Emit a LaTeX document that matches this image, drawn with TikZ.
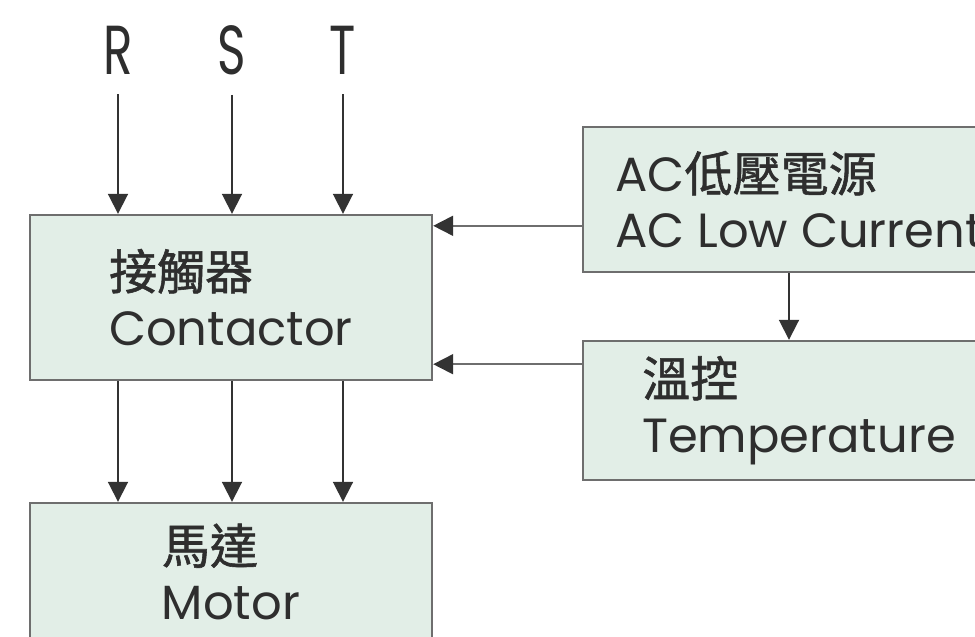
\documentclass[tikz,border=0pt]{standalone}
\usepackage{fontspec}
\usepackage{xcolor}
\usepackage{tikz}
\usetikzlibrary{arrows.meta,positioning,calc}
\setmainfont{Poppins}
\newfontfamily\cjk[FakeBold=1.2]{Noto Sans CJK TC}
\newfontfamily\rstfont[FakeStretch=0.7]{Poppins}
\definecolor{Mint}{HTML}{E2EEE7}
\definecolor{Frame}{HTML}{6E6E6E}
\definecolor{Wire}{HTML}{333333}
\definecolor{Ink}{HTML}{2E2E2E}
\tikzset{
  wirearrow/.style={-{Triangle[length=15pt,width=15pt]}, line width=1.4pt, draw=Wire},
  sidearrow/.style={-{Triangle[length=15pt,width=15pt,color=Wire]}, line width=1.4pt, draw=Frame},
  blockbox/.style={rectangle, draw=Frame, fill=Mint, line width=1.8pt, align=left, inner sep=0pt, text=Ink, font=\fontsize{36}{42}\selectfont},
  phasetag/.style={inner sep=3pt, text=Ink, font=\rstfont\fontsize{52}{52}\selectfont},
}

\begin{document}
\begin{tikzpicture}[x=0.75pt,y=-0.75pt]
\path[use as bounding box] (0,0) rectangle (975,636);
\clip (0,0) rectangle (975,636);
\fill[white] (0,0) rectangle (975,636);

\node[blockbox,minimum width=0.75pt*402,minimum height=0.75pt*165] (con) at (231,297.5) {{\cjk 接觸器}\\Contactor};
\node[blockbox,minimum width=0.75pt*402,minimum height=0.75pt*138] (mot) at (231,572) {{\cjk 馬達}\\Motor};
\node[blockbox,minimum width=0.75pt*432,minimum height=0.75pt*145] (ac) at (799,199.5) {AC{\cjk 低壓電源}\\AC Low Current};
\node[blockbox,minimum width=0.75pt*432,minimum height=0.75pt*139] (tmp) at (799,410.5) {{\cjk 溫控}\\Temperature};

\node[phasetag] (r) at (118,50) {R};
\node[phasetag] (s) at (232,50) {S};
\node[phasetag] (t) at (343,50) {T};

\foreach \ph in {r,s,t}{
  \draw[wirearrow,shorten <=12pt] (\ph.south) -- (\ph.south |- con.north);
  \draw[wirearrow] (con.south -| \ph.south) -- (mot.north -| \ph.south);
}

\coordinate (acin) at ([yshift=-9pt]con.north east);
\coordinate (tmpin) at ([yshift=12.75pt]con.south east);
\draw[sidearrow] (acin -| ac.west) -- (acin);
\draw[sidearrow] (tmpin -| tmp.west) -- (tmpin);
\draw[wirearrow] ([xshift=-7.5pt]ac.south) -- ([xshift=-7.5pt]tmp.north);
\end{tikzpicture}
\end{document}
